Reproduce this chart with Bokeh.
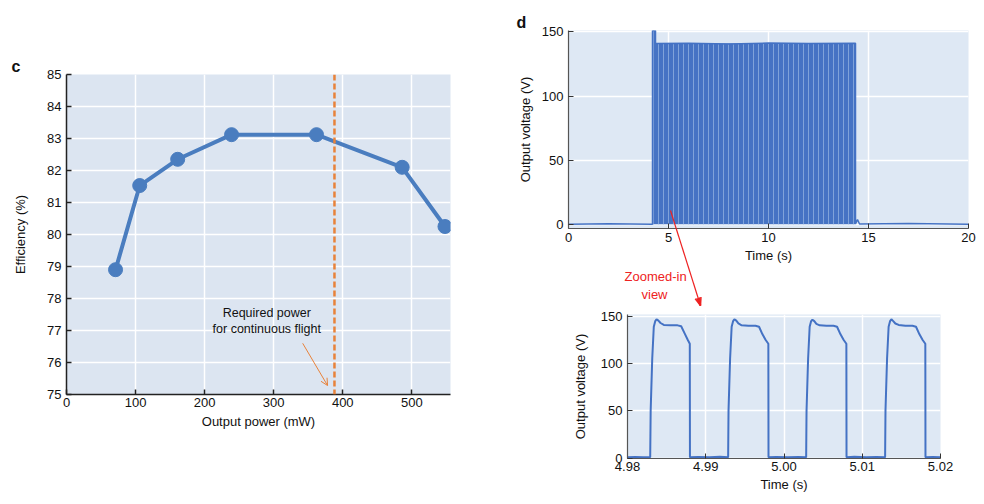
from bokeh.plotting import figure
from bokeh.layouts import row, column
from bokeh.models import (Span, Label, Arrow, OpenHead, NormalHead, FixedTicker,
                          PrintfTickFormatter, Title, Spacer)
from bokeh.embed import file_html
from bokeh.resources import INLINE

# ---------------- data ----------------
# panel c
power_mw = [71, 106, 161, 239, 362, 486, 548]
efficiency = [78.9, 81.53, 82.35, 83.12, 83.12, 82.1, 80.25]
required_power = 388
c_xticks = [0, 100, 200, 300, 400, 500]
c_yticks = [75, 76, 77, 78, 79, 80, 81, 82, 83, 84, 85]

# panel d (top): full record
t_full = [0, 2, 4.2, 4.2, 4.35, 4.35, 6, 8, 10, 12, 14.35, 14.35, 14.45, 14.55, 17, 20]
v_full = [0.3, 0.6, 0.4, 151, 151, 140.8, 141, 140.5, 141.2, 140.8, 141, 0.5, 4, 0.5, 0.8, 0.4]
# envelope of the dense pulse train (4.2 s - 14.35 s)
t_burst = [4.2, 4.35, 4.35, 14.35]
v_burst_top = [151, 151, 140.8, 140.8]
v_burst_bottom = [0.4, 0.4, 0.4, 0.4]
d_xticks = [0, 5, 10, 15, 20]
d_yticks = [0, 50, 100, 150]

# panel d (bottom): zoomed-in view
t_zoom = [4.9800, 4.9810, 4.9820, 4.98290,
          4.98296, 4.98316, 4.98336, 4.98355, 4.98371, 4.98395, 4.98422, 4.98464, 4.98550, 4.98640,
          4.98686, 4.98730, 4.98771, 4.98796, 4.98798,
          4.9890, 4.9905, 4.9918, 4.99286,
          4.99291, 4.99311, 4.99331, 4.99350, 4.99366, 4.99390, 4.99417, 4.99459, 4.99545, 4.99635,
          4.99681, 4.99725, 4.99766, 4.99800, 4.99802,
          4.9990, 5.0005, 5.0018, 5.00283,
          5.00288, 5.00308, 5.00328, 5.00347, 5.00363, 5.00387, 5.00414, 5.00456, 5.00542, 5.00632,
          5.00678, 5.00722, 5.00763, 5.00797, 5.00799,
          5.0090, 5.0105, 5.0118, 5.01292,
          5.01297, 5.01317, 5.01337, 5.01356, 5.01372, 5.01396, 5.01423, 5.01465, 5.01551, 5.01641,
          5.01687, 5.01731, 5.01772, 5.01806, 5.01808,
          5.0190, 5.0200]
v_zoom = [0.8, 1.2, 0.8, 0.8,
          50, 105, 139, 145, 147, 145.5, 143, 141, 140.5, 140.5,
          139.5, 132, 125, 121, 0.8,
          1.2, 0.8, 1.3, 0.8,
          50, 105, 139, 145, 147, 145.5, 142.5, 140.5, 140, 140,
          139, 131, 125, 121, 0.8,
          1.2, 0.8, 1.2, 0.8,
          50, 105, 139, 145, 146.5, 145, 142, 140.5, 140, 140,
          139, 131, 125, 121, 0.8,
          1.3, 0.8, 1.2, 0.8,
          50, 105, 139, 145, 147, 145, 142.5, 141, 140, 140,
          139, 131, 125, 121, 0.8,
          1.0, 0.8]
z_xticks = [4.98, 4.99, 5.00, 5.01, 5.02]
z_yticks = [0, 50, 100, 150]

# red pointer from the burst (top panel) down to the zoomed-in panel, in top-panel data units
pointer_start = (5.1, 11.0)
pointer_tip = (6.6, -62.9)
pointer_head_base = [(6.337, -57.68), (6.4085, -57.33), (6.48, -56.98),
                     (6.5515, -56.63), (6.623, -56.28)]

FONT = "Liberation Sans"
BLUE = "#4a7dbf"
TRACE = "#4472c4"
ORANGE = "#e8823a"
RED = "#ee2222"


def style_axes(p, label_size="13px", tick_size="13px"):
    for ax in p.axis:
        ax.major_label_text_font = FONT
        ax.major_label_text_font_size = tick_size
        ax.major_label_text_color = "#111111"
        ax.axis_label_text_font = FONT
        ax.axis_label_text_font_size = label_size
        ax.axis_label_text_font_style = "normal"
        ax.axis_label_text_color = "#111111"
        ax.major_tick_in = 5
        ax.major_tick_out = 0
        ax.minor_tick_line_color = None
    p.outline_line_color = None
    for g in p.grid:
        g.grid_line_color = "white"
        g.grid_line_width = 1.5


def panel_letter(p, letter, offset, standoff):
    p.title.text = letter
    p.title.align = "left"
    p.title.offset = offset
    p.title.standoff = standoff
    p.title.text_font = FONT
    p.title.text_font_size = "16px"
    p.title.text_font_style = "bold"
    p.title.text_color = "#111111"


# ---------------- panel c ----------------
pc = figure(width=500, height=504, x_range=(0, 556), y_range=(75, 85),
            output_backend="svg", toolbar_location=None,
            min_border_left=66, min_border_right=50, min_border_top=74, min_border_bottom=110,
            background_fill_color="#dce5f1", border_fill_color="white")
pc.xaxis.ticker = FixedTicker(ticks=c_xticks)
pc.yaxis.ticker = FixedTicker(ticks=c_yticks)
pc.xaxis.axis_label = "Output power (mW)"
pc.yaxis.axis_label = "Efficiency (%)"
style_axes(pc, label_size="13px", tick_size="13px")
for ax in pc.axis:
    ax.axis_line_color = "#222222"
    ax.axis_line_width = 1.5
    ax.major_tick_line_color = "#222222"
    ax.major_tick_line_width = 1.5
pc.yaxis.axis_label_standoff = 16
pc.xaxis.axis_label_standoff = 4
pc.xaxis.major_label_standoff = 3
panel_letter(pc, "c", -55, 0)

pc.line(power_mw, efficiency, line_width=4, color=BLUE)
pc.scatter(power_mw, efficiency, size=14, color=BLUE)
pc.add_layout(Span(location=required_power, dimension="height", line_color=ORANGE,
                   line_dash="6 3", line_width=2.5))
pc.add_layout(Label(x=290, y=77.56, text="Required power", text_align="center",
                    text_baseline="middle", text_font=FONT, text_font_size="12.5px",
                    text_color="#111111"))
pc.add_layout(Label(x=290, y=77.06, text="for continuous flight", text_align="center",
                    text_baseline="middle", text_font=FONT, text_font_size="12.5px",
                    text_color="#111111"))
pc.add_layout(Arrow(end=OpenHead(size=7, line_color=ORANGE, line_width=1),
                    x_start=342, y_start=76.6, x_end=378, y_end=75.28,
                    line_color=ORANGE, line_width=1))

# ---------------- panel d (top) ----------------
pd = figure(width=484, height=308, x_range=(0, 20), y_range=(-3, 151),
            output_backend="svg", toolbar_location=None,
            min_border_left=68, min_border_right=16, min_border_top=30, min_border_bottom=80,
            background_fill_color="#dee8f4", border_fill_color="white")
pd.xaxis.ticker = FixedTicker(ticks=d_xticks)
pd.yaxis.ticker = FixedTicker(ticks=d_yticks)
pd.xaxis.axis_label = "Time (s)"
pd.yaxis.axis_label = "Output voltage (V)"
style_axes(pd)
for ax in pd.axis:
    ax.axis_line_color = "#555555"
    ax.axis_line_width = 1.2
    ax.major_tick_line_color = "#333333"
pd.yaxis.axis_label_standoff = 6
pd.xaxis.axis_label_standoff = 3
pd.xaxis.major_label_standoff = 4
panel_letter(pd, "d", -52, 0)

pd.varea(x=t_burst, y1=v_burst_bottom, y2=v_burst_top, fill_color="#4673c4",
         hatch_pattern="|", hatch_color="#86a8dd", hatch_scale=5, hatch_weight=1,
         hatch_alpha=0.9)
pd.line(t_full, v_full, line_width=1.5, color=TRACE)

# pointer shaft: part inside the frame ...
pd.add_layout(Arrow(start=None, end=None,
                    x_start=pointer_start[0], y_start=pointer_start[1],
                    x_end=pointer_tip[0], y_end=pointer_tip[1],
                    line_color=RED, line_width=1.2))
# ... and part outside the frame (an invisible large head opens the clip region)
pd.add_layout(Arrow(start=NormalHead(size=140, fill_alpha=0, line_alpha=0), end=None,
                    x_start=pointer_start[0], y_start=pointer_start[1],
                    x_end=pointer_tip[0], y_end=pointer_tip[1],
                    line_color=RED, line_width=1.2))
# arrow tip drawn as a fan of short strokes
for bx, by in pointer_head_base:
    pd.add_layout(Arrow(start=NormalHead(size=30, fill_alpha=0, line_alpha=0), end=None,
                        x_start=pointer_tip[0], y_start=pointer_tip[1],
                        x_end=bx, y_end=by, line_color=RED, line_width=1.5))

zoom_t1 = Title(text="Zoomed-in", align="left", offset=56, standoff=2, text_font=FONT,
                text_font_size="13px", text_font_style="normal", text_color=RED)
zoom_t2 = Title(text="view", align="left", offset=73, standoff=0, text_font=FONT,
                text_font_size="13px", text_font_style="normal", text_color=RED)
pd.add_layout(zoom_t1, "below")
pd.add_layout(zoom_t2, "below")

# ---------------- panel d (bottom) ----------------
pz = figure(width=425, height=196, x_range=(4.98, 5.02), y_range=(-0.5, 152),
            output_backend="svg", toolbar_location=None,
            min_border_left=68, min_border_right=44, min_border_top=6, min_border_bottom=46,
            background_fill_color="#dee8f4", border_fill_color="white")
pz.xaxis.ticker = FixedTicker(ticks=z_xticks)
pz.yaxis.ticker = FixedTicker(ticks=z_yticks)
pz.xaxis.formatter = PrintfTickFormatter(format="%.2f")
pz.xaxis.axis_label = "Time (s)"
pz.yaxis.axis_label = "Output voltage (V)"
style_axes(pz)
for ax in pz.axis:
    ax.axis_line_color = "#555555"
    ax.axis_line_width = 1.2
    ax.major_tick_line_color = "#333333"
pz.yaxis.axis_label_standoff = 10
pz.xaxis.axis_label_standoff = 3
pz.xaxis.major_label_standoff = 3

pz.line(t_zoom, v_zoom, line_width=2, color=TRACE)

layout = row(pc, column(pd, row(Spacer(width=59), pz)))

open("out.html", "w").write(file_html(layout, INLINE))
